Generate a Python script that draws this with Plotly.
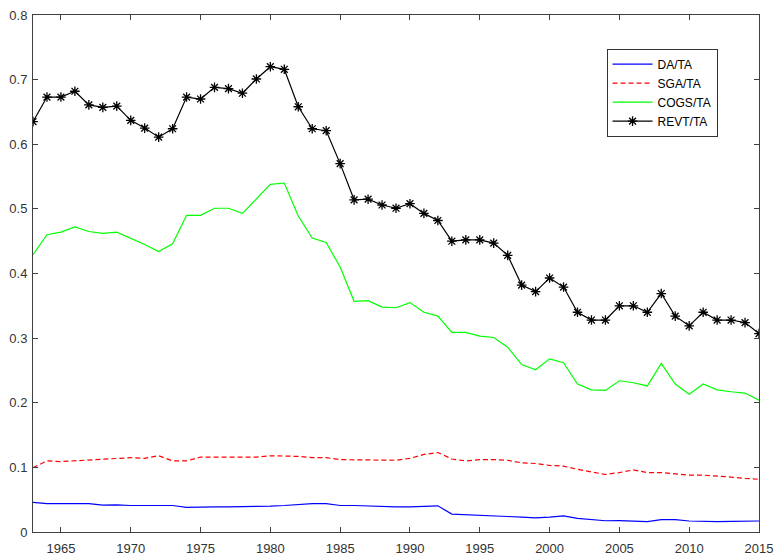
import plotly.graph_objects as go

years = list(range(1963, 2016))

da_ta = [0.0457, 0.044, 0.044, 0.044, 0.044, 0.0415, 0.042, 0.041, 0.041, 0.041,
         0.041, 0.038, 0.039, 0.039, 0.039, 0.039, 0.039, 0.040, 0.041, 0.043,
         0.044, 0.044, 0.041, 0.041, 0.040, 0.039, 0.039, 0.039, 0.040, 0.0405,
         0.0277, 0.027, 0.026, 0.025, 0.024, 0.023, 0.022, 0.023, 0.025, 0.021,
         0.019, 0.0174, 0.0175, 0.017, 0.016, 0.019, 0.019, 0.017, 0.016, 0.016,
         0.0165, 0.017, 0.017]

sga_ta = [0.0995, 0.110, 0.109, 0.110, 0.111, 0.112, 0.114, 0.115, 0.114, 0.118,
          0.110, 0.110, 0.116, 0.116, 0.116, 0.115, 0.116, 0.118, 0.118, 0.117,
          0.115, 0.115, 0.112, 0.112, 0.112, 0.111, 0.111, 0.114, 0.120, 0.123,
          0.113, 0.110, 0.112, 0.112, 0.111, 0.107, 0.106, 0.103, 0.102, 0.097,
          0.093, 0.089, 0.092, 0.096, 0.092, 0.092, 0.090, 0.088, 0.088, 0.087,
          0.085, 0.083, 0.0815]

cogs_ta = [0.429, 0.460, 0.464, 0.472, 0.465, 0.462, 0.464, 0.455, 0.445, 0.434,
           0.446, 0.490, 0.490, 0.501, 0.501, 0.493, 0.516, 0.538, 0.540, 0.489,
           0.455, 0.448, 0.410, 0.357, 0.358, 0.348, 0.347, 0.355, 0.340, 0.334,
           0.309, 0.309, 0.303, 0.301, 0.286, 0.259, 0.251, 0.268, 0.262, 0.229,
           0.220, 0.219, 0.234, 0.231, 0.226, 0.261, 0.229, 0.213, 0.229, 0.220,
           0.217, 0.215, 0.204]

revt_ta = [0.635, 0.673, 0.673, 0.682, 0.661, 0.657, 0.659, 0.637, 0.625, 0.611,
           0.624, 0.673, 0.670, 0.688, 0.686, 0.679, 0.701, 0.720, 0.716, 0.658,
           0.624, 0.621, 0.570, 0.514, 0.515, 0.506, 0.501, 0.508, 0.493, 0.482,
           0.450, 0.452, 0.452, 0.447, 0.428, 0.382, 0.372, 0.393, 0.379, 0.340,
           0.328, 0.328, 0.350, 0.350, 0.340, 0.369, 0.334, 0.319, 0.340, 0.328,
           0.328, 0.324, 0.307]

x_ticks = [1965, 1970, 1975, 1980, 1985, 1990, 1995, 2000, 2005, 2010, 2015]
y_ticks = [0, 0.1, 0.2, 0.3, 0.4, 0.5, 0.6, 0.7, 0.8]
y_tick_text = ["0", "0.1", "0.2", "0.3", "0.4", "0.5", "0.6", "0.7", "0.8"]

fig = go.Figure()
fig.add_trace(go.Scatter(x=years, y=da_ta, name="DA/TA", mode="lines",
                         line=dict(color="#0000ff", width=1.2)))
fig.add_trace(go.Scatter(x=years, y=sga_ta, name="SGA/TA", mode="lines",
                         line=dict(color="#ff0000", width=1.2, dash="5px,3px")))
fig.add_trace(go.Scatter(x=years, y=cogs_ta, name="COGS/TA", mode="lines",
                         line=dict(color="#00ff00", width=1.2)))
fig.add_trace(go.Scatter(x=years, y=revt_ta, name="REVT/TA", mode="lines+markers",
                         line=dict(color="#000000", width=1.2),
                         marker=dict(symbol="asterisk-open", size=8,
                                     line=dict(color="#000000", width=1.3))))

axis_color = "#404040"
fig.update_layout(
    width=776, height=555,
    margin=dict(l=33, r=17, t=15, b=23, autoexpand=False),
    paper_bgcolor="white", plot_bgcolor="white",
    font=dict(family="Liberation Sans, Arial, sans-serif", size=13, color="#333333"),
    showlegend=True,
    legend=dict(x=0.79, y=0.935, xanchor="left", yanchor="top",
                bgcolor="white", bordercolor="#333333", borderwidth=1,
                font=dict(size=12, color="#000000"),
                tracegroupgap=0, itemwidth=40),
)
fig.update_xaxes(range=[1963, 2015], tickvals=x_ticks, ticktext=[str(t) for t in x_ticks],
                 automargin=False,
                 showgrid=False, zeroline=False, showline=True, linecolor=axis_color,
                 linewidth=1, mirror="ticks", ticks="inside", ticklen=5,
                 tickcolor=axis_color, ticklabelstandoff=4)
fig.update_yaxes(range=[0, 0.8], tickvals=y_ticks, ticktext=y_tick_text,
                 automargin=False,
                 showgrid=False, zeroline=False, showline=True, linecolor=axis_color,
                 linewidth=1, mirror="ticks", ticks="inside", ticklen=5,
                 tickcolor=axis_color, ticklabelstandoff=2)

fig.write_html("out.html",
               config={"displayModeBar": False},
               post_script="document.body.style.margin='0';document.body.style.overflow='hidden';")
